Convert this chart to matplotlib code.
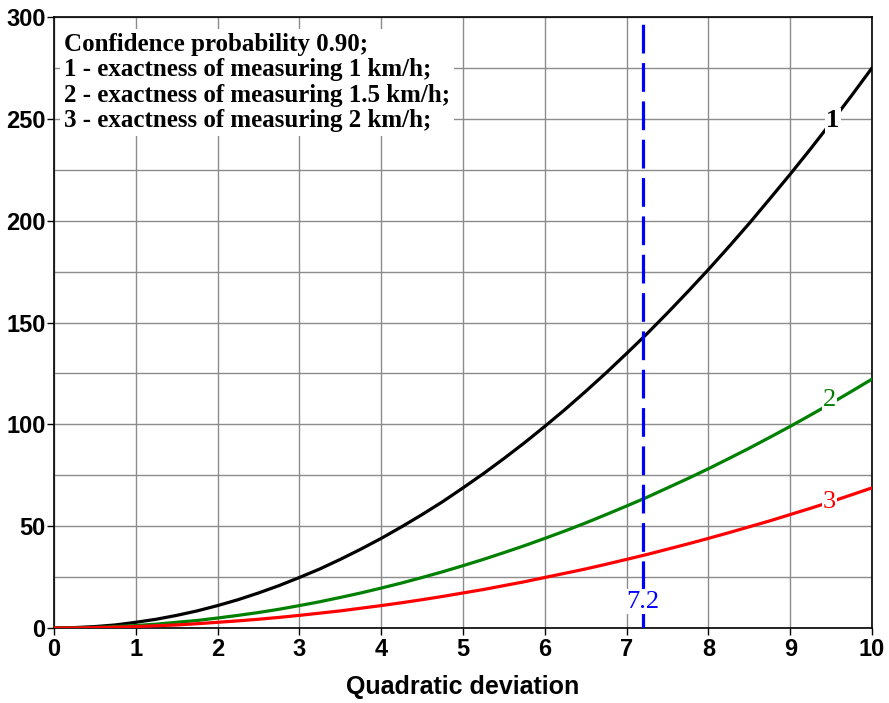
import matplotlib.pyplot as plt
import numpy as np

# Required sample size vs quadratic deviation (confidence 0.90)
sigma = [0, 0.25, 0.5, 0.75, 1, 1.25, 1.5, 1.75, 2, 2.25, 2.5, 2.75, 3,
         3.25, 3.5, 3.75, 4, 4.25, 4.5, 4.75, 5, 5.25, 5.5, 5.75, 6,
         6.25, 6.5, 6.75, 7, 7.25, 7.5, 7.75, 8, 8.25, 8.5, 8.75, 9,
         9.25, 9.5, 9.75, 10]
n_1kmh = [0, 0.2, 0.7, 1.5, 2.8, 4.3, 6.2, 8.4, 11.0, 13.9, 17.2, 20.8, 24.8,
          29.0, 33.7, 38.7, 44.0, 49.7, 55.7, 62.0, 68.8, 75.8, 83.2, 90.9, 99.0,
          107.4, 116.2, 125.3, 134.8, 144.5, 154.7, 165.2, 176.0, 187.2, 198.7,
          210.7, 222.8, 235.3, 248.2, 261.4, 275.0]
n_15kmh = [0, 0.1, 0.3, 0.7, 1.2, 1.9, 2.8, 3.7, 4.9, 6.2, 7.6, 9.2, 11.0,
           12.9, 15.0, 17.2, 19.6, 22.1, 24.8, 27.6, 30.6, 33.7, 37.0, 40.4, 44.0,
           47.7, 51.6, 55.7, 59.9, 64.2, 68.8, 73.4, 78.2, 83.2, 88.3,
           93.6, 99.0, 104.6, 110.3, 116.2, 122.2]
n_2kmh = [0, 0.0, 0.2, 0.4, 0.7, 1.1, 1.5, 2.1, 2.8, 3.5, 4.3, 5.2, 6.2,
          7.3, 8.4, 9.7, 11.0, 12.4, 13.9, 15.5, 17.2, 18.9, 20.8, 22.7, 24.8,
          26.9, 29.0, 31.3, 33.7, 36.1, 38.7, 41.3, 44.0, 46.8, 49.7,
          52.6, 55.7, 58.8, 62.0, 65.4, 68.8]
sigma_mark = 7.2

legend_lines = ["Confidence probability 0.90;",
                "1 - exactness of measuring 1 km/h;",
                "2 - exactness of measuring 1.5 km/h;",
                "3 - exactness of measuring 2 km/h;"]

fig = plt.figure(figsize=(8.89, 7.03), dpi=100)
ax = fig.add_axes([54 / 889, 75 / 703, 818 / 889, 611 / 703])

line_kw = dict(lw=2.3, zorder=3, solid_joinstyle='round', solid_capstyle='round')
ax.plot(sigma, n_1kmh, color='black', **line_kw)
ax.plot(sigma, n_15kmh, color='#008000', **line_kw)
ax.plot(sigma, n_2kmh, color='#ff0000', **line_kw)
ax.axvline(sigma_mark, color='#0000ff', lw=2.3, dashes=(9, 3), zorder=4)

ax.set_xlim(0, 10)
ax.set_ylim(0, 300)
ax.set_xticks(np.arange(0, 11, 1))
ax.set_yticks(np.arange(0, 301, 50))
ax.set_yticks(np.arange(0, 301, 25), minor=True)
ax.grid(True, which='both', color='#8c8c8c', lw=1.0, zorder=0)
ax.set_axisbelow(True)

for lbl in ax.get_xticklabels() + ax.get_yticklabels():
    lbl.set_fontfamily('Liberation Sans')
    lbl.set_fontweight('bold')
    lbl.set_fontsize(17)
ax.tick_params(which='both', length=5, width=1)
ax.tick_params(which='minor', left=False)
ax.tick_params(axis='x', pad=2)
ax.tick_params(axis='y', pad=1)
for sp in ax.spines.values():
    sp.set_linewidth(1.2)

ax.set_xlabel('Quadratic deviation', fontfamily='Liberation Sans',
              fontweight='bold', fontsize=18, labelpad=10)

serif = 'Liberation Serif'
ax.text(0.12, 292, "\n".join(legend_lines), fontfamily=serif,
        fontweight='bold', fontsize=18, va='top', ha='left',
        linespacing=1.12, zorder=5,
        bbox=dict(facecolor='white', edgecolor='none', pad=3))

label_box = dict(facecolor='white', edgecolor='none', pad=1)
ax.text(9.52, 249, '1', fontfamily=serif, fontweight='bold', fontsize=19,
        color='black', ha='center', va='center', zorder=5, bbox=label_box)
ax.text(9.48, 112, '2', fontfamily=serif, fontsize=19,
        color='#008000', ha='center', va='center', zorder=5, bbox=label_box)
ax.text(9.48, 62, '3', fontfamily=serif, fontsize=19,
        color='#ff0000', ha='center', va='center', zorder=5, bbox=label_box)
ax.text(sigma_mark, 13, f'{sigma_mark}', fontfamily=serif, fontsize=19,
        color='#0000ff', ha='center', va='center', zorder=5, bbox=label_box)

fig.savefig('out.png', dpi=100)
